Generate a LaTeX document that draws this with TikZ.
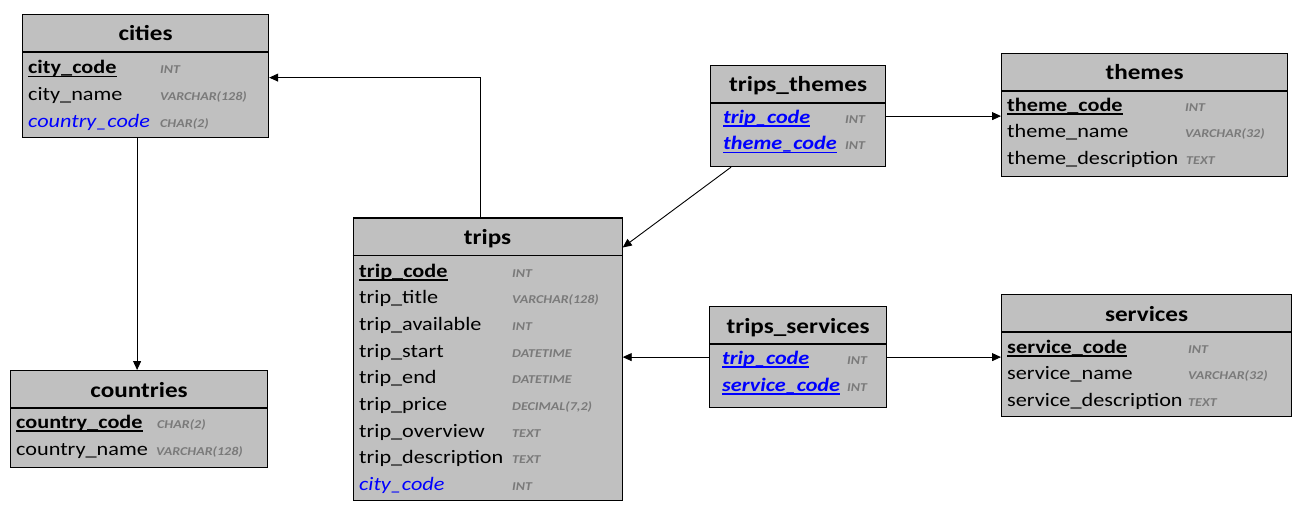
\documentclass[tikz,border=0pt]{standalone}
\usepackage{fontspec}
\usetikzlibrary{arrows.meta}
\newfontfamily\erfont[FakeStretch=1.17]{Carlito}
\definecolor{tblgray}{HTML}{C0C0C0}
\definecolor{typgray}{HTML}{7A7A7A}
\definecolor{fkblue}{HTML}{0000FF}
\newcommand\erul[1]{\setbox0\hbox{#1}\rlap{\rule[-3.5pt]{\wd0}{1.6pt}}\box0}
\tikzset{
  tbl/.style={draw=black, line width=1.2pt, fill=tblgray, anchor=north west, inner sep=0pt},
  hdr/.style={draw=black, line width=1.2pt},
  ttl/.style={anchor=base, inner sep=0pt, font=\erfont\fontsize{21.5}{24}\selectfont\bfseries},
  fld/.style={anchor=base west, inner sep=0pt, font=\erfont\fontsize{19}{22}\selectfont},
  pk/.style={fld, font=\erfont\fontsize{19}{22}\selectfont\bfseries},
  fk/.style={fld, text=fkblue, font=\erfont\fontsize{19}{22}\selectfont\itshape},
  jk/.style={fld, text=fkblue, font=\erfont\fontsize{19}{22}\selectfont\bfseries\itshape},
  typ/.style={anchor=base west, inner sep=0pt, text=typgray, font=\erfont\fontsize{12}{14}\selectfont\bfseries\itshape},
  conn/.style={draw=black, line width=0.9pt, -{Triangle[length=9pt,width=8pt]}}
}
\begin{document}
\begin{tikzpicture}[x=1pt,y=-1pt]
\fill[white] (0,0) rectangle (1306,513);
\useasboundingbox (0,0) rectangle (1306,513);

% ---------- tables ----------
\node[tbl, minimum width=246pt, minimum height=123pt] (cities) at (22,14) {};
\node[tbl, minimum width=257pt, minimum height=97pt] (countries) at (10,370) {};
\node[tbl, minimum width=269pt, minimum height=282pt] (trips) at (352.5,217.5) {};
\node[tbl, minimum width=175pt, minimum height=101pt] (tthemes) at (710,65) {};
\node[tbl, minimum width=286pt, minimum height=123pt] (themes) at (1001,53) {};
\node[tbl, minimum width=177pt, minimum height=101pt] (tservices) at (709,306) {};
\node[tbl, minimum width=290pt, minimum height=122pt] (services) at (1001,294) {};

% ---------- header lines ----------
\foreach \t in {cities,countries,trips,tthemes,themes,tservices,services}
  \draw[hdr] ([yshift=-38pt]\t.north west) -- ([yshift=-38pt]\t.north east);

% ---------- titles ----------
\node[ttl] (cities-t) at ([yshift=-27pt]cities.north) {cities};
\node[ttl] (countries-t) at ([yshift=-27pt]countries.north) {countries};
\node[ttl] (trips-t) at ([yshift=-27pt]trips.north) {trips};
\node[ttl] (tthemes-t) at ([yshift=-27pt]tthemes.north) {trips\_themes};
\node[ttl] (themes-t) at ([yshift=-27pt]themes.north) {themes};
\node[ttl] (tservices-t) at ([yshift=-27pt]tservices.north) {trips\_services};
\node[ttl] (services-t) at ([yshift=-27pt]services.north) {services};

% ---------- cities ----------
\node[pk] (ci1) at (28,74) {\erul{city\_code}};
\node[fld] (ci2) at (28,100.7) {city\_name};
\node[fk] (ci3) at (28,127.4) {country\_code};
\node[typ] (ci1t) at (160,74) {INT};
\node[typ] (ci2t) at (160,100.7) {VARCHAR(128)};
\node[typ] (ci3t) at (160,127.4) {CHAR(2)};

% ---------- countries ----------
\node[pk] (co1) at (16,428) {\erul{country\_code}};
\node[fld] (co2) at (16,455) {country\_name};
\node[typ] (co1t) at (157,428) {CHAR(2)};
\node[typ] (co2t) at (156,455) {VARCHAR(128)};

% ---------- trips ----------
\node[pk] (tr1) at (359,277) {\erul{trip\_code}};
\node[fld] (tr2) at (359,303.7) {trip\_title};
\node[fld] (tr3) at (359,330.4) {trip\_available};
\node[fld] (tr4) at (359,357.1) {trip\_start};
\node[fld] (tr5) at (359,383.8) {trip\_end};
\node[fld] (tr6) at (359,410.5) {trip\_price};
\node[fld] (tr7) at (359,437.2) {trip\_overview};
\node[fld] (tr8) at (359,463.9) {trip\_description};
\node[fk] (tr9) at (359,490.6) {city\_code};
\node[typ] (tr1t) at (512,277) {INT};
\node[typ] (tr2t) at (512,303.7) {VARCHAR(128)};
\node[typ] (tr3t) at (512,330.4) {INT};
\node[typ] (tr4t) at (512,357.1) {DATETIME};
\node[typ] (tr5t) at (512,383.8) {DATETIME};
\node[typ] (tr6t) at (512,410.5) {DECIMAL(7,2)};
\node[typ] (tr7t) at (512,437.2) {TEXT};
\node[typ] (tr8t) at (512,463.9) {TEXT};
\node[typ] (tr9t) at (512,490.6) {INT};

% ---------- trips_themes ----------
\node[jk] (tt1) at (723,123.5) {\erul{trip\_code}};
\node[jk] (tt2) at (723,150) {\erul{theme\_code}};
\node[typ] (tt1t) at (845,123.5) {INT};
\node[typ] (tt2t) at (845,150) {INT};

% ---------- themes ----------
\node[pk] (th1) at (1007,111.5) {\erul{theme\_code}};
\node[fld] (th2) at (1007,138) {theme\_name};
\node[fld] (th3) at (1007,164.5) {theme\_description};
\node[typ] (th1t) at (1185,111.5) {INT};
\node[typ] (th2t) at (1185,138) {VARCHAR(32)};
\node[typ] (th3t) at (1186,164.5) {TEXT};

% ---------- trips_services ----------
\node[jk] (ts1) at (722,364.5) {\erul{trip\_code}};
\node[jk] (ts2) at (722,391) {\erul{service\_code}};
\node[typ] (ts1t) at (847,364.5) {INT};
\node[typ] (ts2t) at (847,391) {INT};

% ---------- services ----------
\node[pk] (se1) at (1007,353) {\erul{service\_code}};
\node[fld] (se2) at (1007,379.5) {service\_name};
\node[fld] (se3) at (1007,406) {service\_description};
\node[typ] (se1t) at (1188,353) {INT};
\node[typ] (se2t) at (1188,379.5) {VARCHAR(32)};
\node[typ] (se3t) at (1188,406) {TEXT};

% ---------- connectors ----------
\draw[conn] ([xshift=-7pt]trips.north) |- ([yshift=-1.5pt]cities.east);
\draw[conn] ([xshift=-8.5pt]cities.south) -- ([xshift=-8.5pt]cities.south |- countries.north);
\draw[conn] ([xshift=21pt]tthemes.south west) -- ([yshift=-30pt]trips.north east);
\draw[conn] (tthemes.east) -- (tthemes.east -| themes.west);
\draw[conn] (tservices.west) -- (tservices.west -| trips.east);
\draw[conn] (tservices.east) -- (tservices.east -| services.west);
\end{tikzpicture}
\end{document}
